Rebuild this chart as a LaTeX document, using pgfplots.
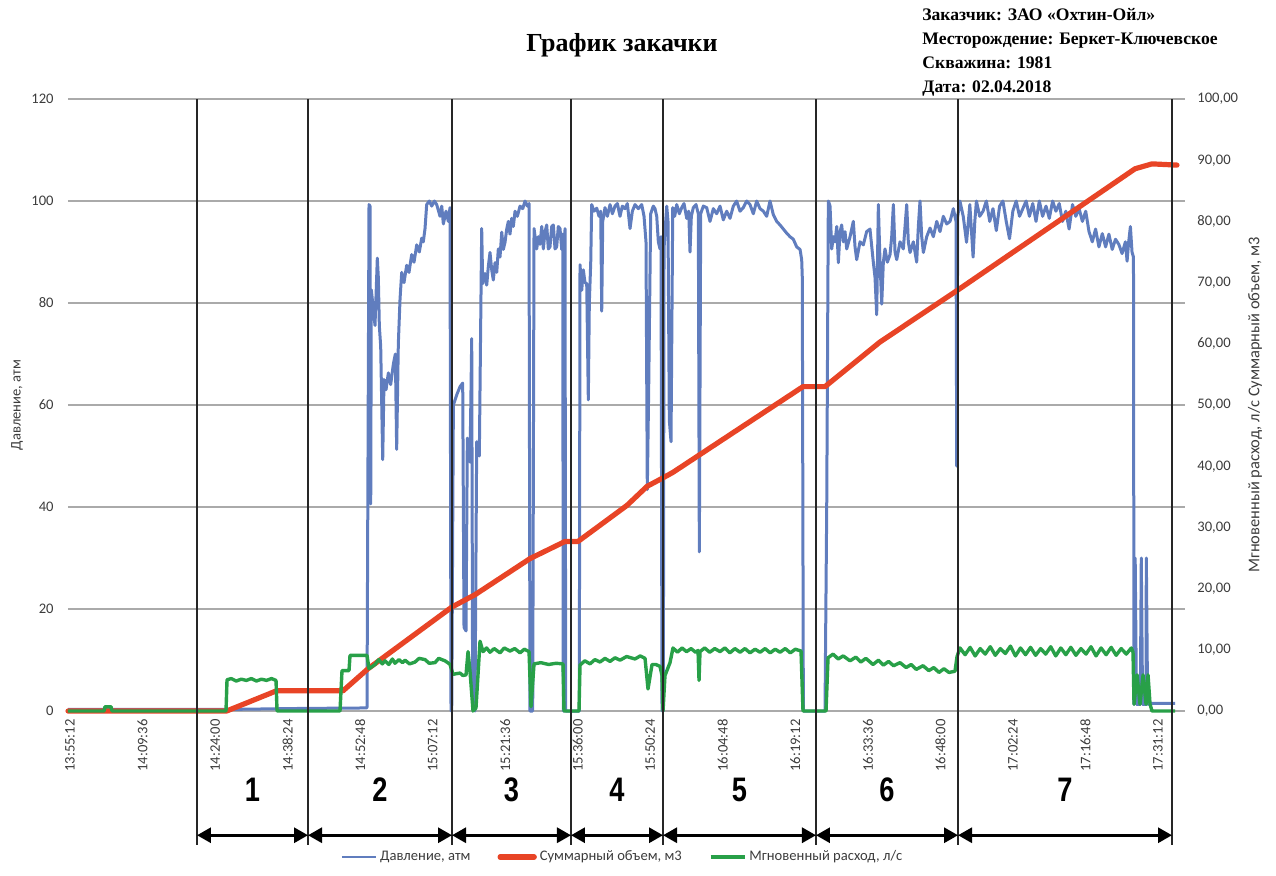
\documentclass[border=0pt]{standalone}
\usepackage{fontspec}
\setmainfont{Carlito}
\newfontfamily\serifb{Liberation Serif}
\newfontfamily\arialb{Liberation Sans}
\usepackage{pgfplots}
\pgfplotsset{compat=1.18}
\usetikzlibrary{arrows.meta}

\definecolor{cBlue}{RGB}{96,125,190}
\definecolor{cRed}{RGB}{232,68,38}
\definecolor{cGreen}{RGB}{40,160,72}
\definecolor{cGrid}{RGB}{170,170,170}
\definecolor{cTxt}{RGB}{60,60,60}

\pgfplotsset{base/.style={
  at={(34pt,82pt)}, anchor=south west,
  scale only axis, width=558.5pt, height=306pt,
  xmin=-0.4, xmax=221.36, clip=false,
  axis line style={draw=none}, major tick length=0pt,
  /pgf/number format/assume math mode=true,
}}
\newcommand{\tfont}{\fontsize{7.3}{8.5}\selectfont}

\begin{document}
\begin{tikzpicture}
\begin{axis}[base,
  ymin=0, ymax=120, ytick={0,20,...,120},
  ymajorgrids, grid style={cGrid, line width=0.6pt},
  xtick={0,14.4,28.8,43.2,57.6,72,86.4,100.8,115.2,129.6,144,158.4,172.8,187.2,201.6,216},
  xticklabels={13:55:12,14:09:36,14:24:00,14:38:24,14:52:48,15:07:12,15:21:36,15:36:00,15:50:24,16:04:48,16:19:12,16:33:36,16:48:00,17:02:24,17:16:48,17:31:12},
  xticklabel style={rotate=90, anchor=east, inner sep=0pt, font=\tfont, text=cTxt},
  xticklabel shift=4pt,
  yticklabel style={anchor=east, inner sep=0pt, font=\tfont, text=cTxt},
  yticklabel shift=7pt,
]
\addplot[cBlue, line width=1.5pt, line join=round] coordinates {
(-0.4,0.3) (31.0,0.3) (45.7,0.5) (58.96,0.6) (59.36,99.3) (59.56,99) (59.70,40.6) (59.82,82.6) (60.09,80) (60.55,75.6) (61.01,88.8) (61.21,85) (61.41,75.5) (61.68,71.5) (62.08,49.3) (62.34,65) (62.74,63) (63.20,66.3) (63.66,64) (64.19,68) (64.59,70) (64.85,51.3) (65.18,72) (65.52,80.8) (65.85,86) (66.31,84) (66.84,87.4) (67.30,86) (67.83,89.5) (68.30,88) (68.83,91.4) (69.35,90) (69.82,92.7) (70.14,92) (70.48,94.6) (70.81,99.3) (71.34,100) (71.81,99) (72.34,100) (72.80,99.3) (73.46,97) (73.80,99) (74.12,95.5) (74.65,98) (75.11,96) (75.44,98.7) (75.64,0) (75.78,0) (76.11,60) (76.78,62) (77.43,63.6) (77.96,64.3) (78.22,16.4) (78.62,15.7) (78.88,53.5) (79.41,48.8) (79.75,73) (79.94,0.9) (80.40,0) (80.74,52.8) (81.26,50) (81.53,75.7) (81.73,94.6) (81.93,83.8) (82.39,85.8) (82.73,83.5) (83.05,87.2) (83.38,89.9) (83.72,86.5) (84.04,84.5) (84.38,87.9) (84.72,86) (85.03,90.6) (85.37,89) (85.71,93.9) (86.02,90.5) (86.36,91.9) (86.70,94.5) (87.02,96) (87.35,93.5) (87.69,96.6) (88.01,95) (88.35,98) (88.81,97) (89.34,99) (89.88,98.5) (90.33,100) (90.80,99) (91.13,99.5) (91.32,0) (91.86,0) (92.12,94.6) (92.65,90.6) (92.98,93) (93.31,91.5) (93.65,95) (93.97,90.6) (94.30,94) (94.64,95.3) (94.96,90.6) (95.29,91) (95.63,95) (95.95,95.3) (96.29,90.6) (96.62,91) (96.94,95) (97.28,94.6) (97.62,90.5) (97.82,93.5) (97.93,0) (98.07,0) (98.27,94.6) (98.41,0) (101.11,0) (101.25,87.5) (101.59,82.5) (101.91,86.5) (102.24,84) (102.58,83.8) (102.90,61) (103.10,80) (103.38,88) (103.57,99.3) (104.03,98) (104.57,98.6) (105.02,97) (105.36,98) (105.56,78.4) (105.76,96) (106.21,98.7) (106.68,97) (107.21,99.3) (107.68,97.5) (108.20,99) (108.67,99.5) (109.19,97) (109.65,99) (110.18,98.5) (110.65,99.5) (111.18,94.6) (111.64,98) (112.17,99.3) (112.83,98.5) (113.50,99.3) (113.96,97) (114.35,92) (114.61,43.4) (114.89,63.6) (115.28,97.5) (115.80,99) (116.14,98.5) (116.48,97) (116.80,92) (117.13,90.6) (117.33,93) (117.53,0) (117.79,0) (117.93,90.6) (118.19,95) (118.47,99) (118.72,96) (118.98,57) (119.32,52.8) (119.66,98.7) (120.05,97) (120.45,99.3) (120.97,97.5) (121.44,98.7) (121.90,99.5) (122.43,96.6) (122.83,98) (123.09,90) (123.35,97) (123.74,98.7) (124.28,99.3) (124.74,97.5) (124.94,31.2) (125.21,97.5) (125.73,99) (126.40,98.7) (127.06,96) (127.72,98.5) (128.38,97.5) (129.05,99) (129.70,96.3) (130.37,98) (131.03,96.6) (131.69,99) (132.35,100) (133.02,98) (133.67,98.7) (134.34,100) (135.00,99.3) (135.66,97.5) (136.33,100) (136.99,98.5) (137.65,98) (138.31,97) (138.97,100) (139.63,97.3) (140.30,96) (140.96,95.3) (141.62,94.5) (142.28,93.7) (142.94,93) (143.60,92.5) (144.27,91) (144.93,90.5) (145.26,88.5) (145.38,85) (145.59,0) (149.89,0) (150.23,40) (150.55,100) (150.89,99) (151.22,90.6) (151.55,93) (151.88,92) (152.22,95) (152.54,87.9) (152.87,94) (153.20,95.3) (153.53,92) (153.86,94) (154.20,90.6) (154.86,93) (155.51,96) (155.85,91) (156.18,88.5) (156.84,92) (157.50,91.4) (158.16,94) (158.82,94.5) (159.49,87.9) (159.82,85) (160.15,77.7) (160.48,99.3) (160.81,88) (161.15,79.8) (161.47,88) (161.80,90.6) (162.27,88) (162.80,89.5) (163.13,93) (163.46,99.3) (163.79,90) (164.13,88.5) (164.78,92) (165.44,90.6) (166.11,99.3) (166.43,92) (166.77,89.9) (167.43,92) (168.09,88) (168.42,95) (168.75,100) (169.09,93) (169.42,89.9) (170.08,93) (170.74,94.7) (171.40,93) (172.07,96) (172.72,94) (173.38,97) (174.05,95.5) (174.71,96) (175.37,98.5) (175.90,96) (176.04,48) (176.24,97) (176.67,100) (177.33,97) (177.99,91.9) (178.64,99.3) (179.29,89) (179.63,96) (179.95,100) (180.60,97) (181.26,98) (181.93,100) (182.59,96) (183.24,98.5) (183.90,94.2) (184.55,99) (185.21,100) (185.87,96) (186.52,92.6) (187.18,98) (187.85,100) (188.51,97) (189.16,98.5) (189.82,100) (190.47,97) (191.13,99.5) (191.78,96) (192.44,100) (193.09,97) (193.77,99) (194.42,96.6) (195.08,100) (195.73,98) (196.39,99.5) (197.04,96) (197.70,98) (198.35,94.5) (199.03,99.3) (199.68,97) (200.34,98.5) (200.99,96) (201.65,98) (202.30,94) (202.96,92) (203.61,94.5) (204.27,91) (204.94,93.6) (205.60,91) (206.25,93.5) (206.91,90.5) (207.56,92.5) (208.22,91.5) (208.87,89.7) (209.53,92) (209.86,88.2) (210.18,92) (210.52,95) (210.84,90) (211.13,89) (211.23,1.3) (211.47,30) (211.73,1.3) (212.48,1.3) (212.68,30) (212.94,1.3) (213.60,1.3) (213.68,30) (213.94,1.3) (214.42,1.5) (219.38,1.5)
};
\end{axis}

\begin{axis}[base,
  ymin=0, ymax=100, ytick={0,10,...,100},
  axis x line=none, axis y line*=right,
  yticklabel style={/pgf/number format/.cd, fixed, fixed zerofill, precision=2, use comma, /tikz/.cd, anchor=west, inner sep=0pt, font=\tfont, text=cTxt},
  yticklabel shift=6pt,
  legend style={at={(0.497,-0.2386)}, anchor=center, draw=none, fill=none, legend columns=3, font=\tfont, text=cTxt, inner sep=0pt, nodes={inner sep=1.5pt}, /tikz/every even column/.append style={column sep=12pt}},
  legend cell align=left,
]
\addlegendimage{cBlue, line width=1.1pt}
\addlegendentry{Давление, атм}
\addplot[cRed, line width=2.6pt, line join=round, line cap=round] coordinates {
(-0.4,0) (31.1,0) (41.0,3.3) (54.2,3.3) (59.16,6.9) (75.84,17.0) (80.40,19.0) (91.32,24.9) (98.27,27.7) (100.85,27.7) (110.58,33.6) (114.55,36.7) (117.73,38.1) (119.71,39.0) (145.52,53.0) (149.89,53.0) (160.81,60.3) (176.10,68.7) (211.44,88.6) (214.81,89.4) (219.77,89.2)
};
\addlegendentry{Суммарный объем, м3}
\addplot[cGreen, line width=1.7pt, line join=round] coordinates {
(-0.4,0) (6.75,0) (6.95,0.7) (8.14,0.7) (8.34,0) (30.97,0) (31.17,5.1) (32,5.3) (33,4.9) (34,5.2) (35,5.0) (36,5.3) (37,4.9) (38,5.2) (39,5.0) (40,5.3) (40.9,5.0) (41.1,0) (53.6,0) (54.0,6.6) (55.39,6.6) (55.59,9.1) (58.96,9.1) (59.36,6.9) (60.55,7.6) (61.3,8.4) (62.0,7.7) (62.54,8.2) (63.3,7.6) (64.0,8.5) (64.52,7.8) (65.3,8.4) (66.0,7.9) (66.51,8.3) (67.4,7.7) (68.49,8.0) (69.3,8.6) (70.48,8.4) (71.3,7.8) (72.46,7.9) (73.2,8.6) (74.45,8.2) (75.0,7.9) (75.44,7.6) (76.04,6.0) (77.43,6.2) (78.0,5.8) (78.62,5.9) (79.02,9.7) (79.41,6.5) (80.01,0) (80.6,0.5) (81.4,11.4) (81.99,9.7) (82.7,10.3) (83.38,9.6) (84.2,10.2) (85.37,9.5) (86.2,10.3) (87.35,9.8) (88.3,10.2) (89.34,9.5) (90.2,10.1) (91.13,9.7) (91.52,0.7) (92.12,7.7) (93.5,7.9) (95,7.6) (96.5,7.8) (97.88,7.7) (98.07,0) (101.05,0) (101.25,7.5) (102.2,8.2) (103.24,7.7) (104.2,8.4) (105.22,8.0) (106.2,8.6) (107.21,8.1) (108.2,8.7) (109.19,8.3) (110.5,8.9) (112.17,8.5) (113.2,9.0) (114.16,8.6) (114.75,3.6) (115.55,7.6) (116.3,7.6) (117.13,7.3) (117.53,5.8) (117.73,0) (118.12,5.8) (119.12,7.9) (119.71,10.3) (120.6,9.6) (121.5,10.3) (122.4,9.7) (123.3,10.2) (124.2,9.6) (124.68,9.9) (124.88,5.0) (125.07,9.7) (126,10.3) (127,9.6) (128,10.2) (129.05,9.7) (130,10.3) (131,9.5) (132,10.2) (133.02,9.6) (134,10.2) (135,9.5) (136,10.1) (136.99,9.6) (138,10.2) (139,9.5) (140,10.1) (140.96,9.6) (142,10.2) (143,9.5) (144,10.1) (145.13,9.8) (145.52,0) (150.09,0) (150.49,8.7) (151.5,9.3) (152.5,8.5) (153.5,9.0) (154.86,8.2) (156,8.8) (157,8.0) (158,8.6) (159.42,7.6) (160.5,8.3) (161.5,7.5) (162.5,8.1) (163.5,7.4) (164.78,7.9) (166,7.1) (167,7.6) (168,6.8) (169.35,7.4) (170.5,6.6) (171.5,7.1) (172.5,6.3) (173.5,6.9) (174.5,6.3) (175.7,6.5) (176.1,8.9) (176.69,10.3) (177.7,9.2) (178.7,10.4) (179.7,9.0) (180.7,10.2) (181.7,9.3) (182.7,10.5) (183.7,9.1) (184.7,10.2) (185.7,9.4) (186.7,10.6) (187.7,9.0) (188.7,10.3) (189.7,9.2) (190.7,10.4) (191.7,9.1) (192.7,10.2) (193.7,9.3) (194.7,10.5) (195.7,9.0) (196.7,10.3) (197.7,9.2) (198.7,10.4) (199.7,9.1) (200.7,10.2) (201.7,9.3) (202.7,10.5) (203.7,9.0) (204.7,10.3) (205.7,9.2) (206.7,10.4) (207.7,9.1) (208.7,10.2) (209.7,9.3) (210.7,10.3) (211.04,9.6) (211.24,1.1) (211.84,5.9) (212.43,1.1) (213.03,5.9) (213.63,1.1) (214.02,5.9) (214.42,1.1) (214.81,0) (219.38,0)
};
\addlegendentry{Мгновенный расход, л/с}

\pgfplotsinvokeforeach{25.21,47.25,75.84,99.46,117.73,148.10,176.30,218.78}{
  \draw[black!85, line width=0.8pt] (axis cs:#1,100) -- (axis cs:#1,-21.9);
}
\tikzset{arr/.style={black, line width=1.5pt, {Triangle[length=7pt,width=7.5pt]}-{Triangle[length=7pt,width=7.5pt]}}}
\draw[arr] (axis cs:25.21,-20.3) -- (axis cs:47.25,-20.3);
\draw[arr] (axis cs:47.25,-20.3) -- (axis cs:75.84,-20.3);
\draw[arr] (axis cs:75.84,-20.3) -- (axis cs:99.46,-20.3);
\draw[arr] (axis cs:99.46,-20.3) -- (axis cs:117.73,-20.3);
\draw[arr] (axis cs:117.73,-20.3) -- (axis cs:148.10,-20.3);
\draw[arr] (axis cs:148.10,-20.3) -- (axis cs:176.30,-20.3);
\draw[arr] (axis cs:176.30,-20.3) -- (axis cs:218.78,-20.3);
\tikzset{num/.style={font=\arialb\bfseries\fontsize{17}{17}\selectfont, xscale=0.8, inner sep=0pt}}
\node[num] at (axis cs:36.23,-12.9) {1};
\node[num] at (axis cs:61.55,-12.9) {2};
\node[num] at (axis cs:87.65,-12.9) {3};
\node[num] at (axis cs:108.60,-12.9) {4};
\node[num] at (axis cs:132.92,-12.9) {5};
\node[num] at (axis cs:162.20,-12.9) {6};
\node[num] at (axis cs:197.54,-12.9) {7};
\end{axis}

\node[font=\serifb\bfseries\fontsize{13}{15}\selectfont] at (311pt,415pt) {График закачки};
\node[anchor=north west, align=left, inner sep=0pt, font=\serifb\bfseries\fontsize{8.8}{12}\selectfont] at (461pt,433.5pt)
  {Заказчик: ЗАО «Охтин-Ойл»\\Месторождение: Беркет-Ключевское\\Скважина: 1981\\Дата: 02.04.2018};
\node[rotate=90, font=\tfont, text=cTxt] at (8.5pt,235pt) {Давление, атм};
\node[rotate=90, font=\fontsize{8.2}{9}\selectfont, text=cTxt] at (627.5pt,235pt) {Мгновенный расход, л/с Суммарный объем, м3};

\pgfresetboundingbox
\path[use as bounding box] (0,0) rectangle (638pt,437.5pt);
\end{tikzpicture}
\end{document}
